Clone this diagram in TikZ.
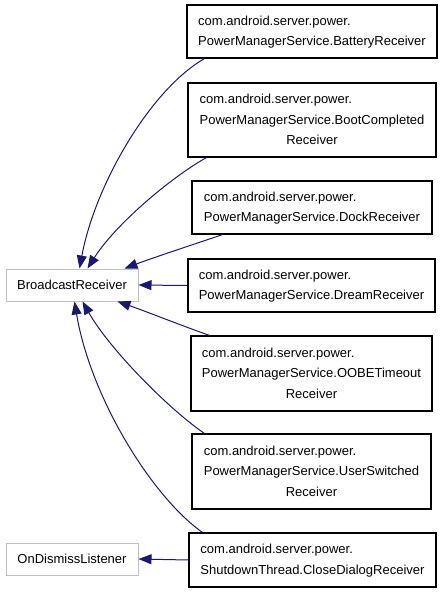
\documentclass[tikz,border=0pt]{standalone}
\usepackage{fontspec}
\setmainfont{Liberation Sans}
\usetikzlibrary{arrows.meta}
\definecolor{edgeblue}{HTML}{191970}
\definecolor{grayborder}{HTML}{BFBFBF}
\tikzset{
  cls/.style={draw=black, line width=1.2pt, fill=white, inner sep=0pt, font=\fontsize{13}{20.5}\selectfont},
  ext/.style={draw=grayborder, line width=1pt, fill=white, inner sep=0pt, font=\fontsize{13}{20.5}\selectfont, minimum width=132pt, minimum height=32pt},
  inh/.style={draw=edgeblue, line width=1pt, -{Triangle[length=13pt,width=10pt]}},
}
\begin{document}
\begin{tikzpicture}[x=1pt,y=-1pt]
\useasboundingbox (0,0) rectangle (443,592);
\node[ext] (br) at (72,285) {BroadcastReceiver};
\node[ext] (od) at (72,559) {OnDismissListener};
\node[cls, minimum width=250pt, minimum height=53pt] (b1) at (312,31.5) {\begin{tabular}{@{}l@{}}com.android.server.power.\\PowerManagerService.BatteryReceiver\end{tabular}};
\node[cls, minimum width=248pt, minimum height=74pt] (b2) at (312,120) {\begin{tabular}{@{}l@{}}com.android.server.power.\\PowerManagerService.BootCompleted\\\multicolumn{1}{@{}c@{}}{Receiver}\end{tabular}};
\node[cls, minimum width=240pt, minimum height=53pt] (b3) at (312,207.5) {\begin{tabular}{@{}l@{}}com.android.server.power.\\PowerManagerService.DockReceiver\end{tabular}};
\node[cls, minimum width=247pt, minimum height=53pt] (b4) at (311.5,285.5) {\begin{tabular}{@{}l@{}}com.android.server.power.\\PowerManagerService.DreamReceiver\end{tabular}};
\node[cls, minimum width=241pt, minimum height=75pt] (b5) at (311.5,373.5) {\begin{tabular}{@{}l@{}}com.android.server.power.\\PowerManagerService.OOBETimeout\\\multicolumn{1}{@{}c@{}}{Receiver}\end{tabular}};
\node[cls, minimum width=239pt, minimum height=75pt] (b6) at (311.5,471.5) {\begin{tabular}{@{}l@{}}com.android.server.power.\\PowerManagerService.UserSwitched\\\multicolumn{1}{@{}c@{}}{Receiver}\end{tabular}};
\node[cls, minimum width=247pt, minimum height=54pt] (b7) at (312.5,560) {\begin{tabular}{@{}l@{}}com.android.server.power.\\ShutdownThread.CloseDialogReceiver\end{tabular}};
\draw[inh] ([xshift=18pt]b1.south west) .. controls (150,90) and (95,185) .. ([xshift=74pt]br.north west);
\draw[inh] ([xshift=19pt]b2.south west) .. controls (170,178) and (115,225) .. ([xshift=82pt]br.north west);
\draw[inh] ([xshift=31pt]b3.south west) .. controls (195,244) and (155,257) .. ([xshift=119pt]br.north west);
\draw[inh] (b4.west) -- (br.east);
\draw[inh] ([xshift=19pt]b5.north west) .. controls (180,325) and (145,311) .. ([xshift=112pt]br.south west);
\draw[inh] ([xshift=13pt]b6.north west) .. controls (170,410) and (110,350) .. ([xshift=77pt]br.south west);
\draw[inh] ([xshift=14pt]b7.north west) .. controls (150,495) and (90,395) .. ([xshift=69pt]br.south west);
\draw[inh] (b7.west) -- (od.east);
\end{tikzpicture}
\end{document}
